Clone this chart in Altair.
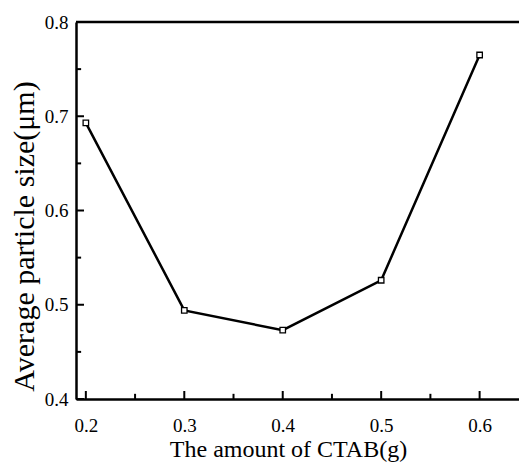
import altair as alt
import pandas as pd

ctab = [0.2, 0.3, 0.4, 0.5, 0.6]
size_um = [0.693, 0.494, 0.473, 0.526, 0.765]

x_major = [0.2, 0.3, 0.4, 0.5, 0.6]
x_minor = [0.25, 0.35, 0.45, 0.55]
y_major = [0.4, 0.5, 0.6, 0.7, 0.8]
y_minor = [0.45, 0.55, 0.65, 0.75]

FONT = "Liberation Serif"
XDOM = [0.19, 0.64]
YDOM = [0.4, 0.8]
# inward tick lengths in data units (major / minor)
XT_MAJ, XT_MIN = 0.0085, 0.0055
YT_MAJ, YT_MIN = 0.0081, 0.0052

df = pd.DataFrame({"x": ctab, "y": size_um})

xscale = alt.Scale(domain=XDOM, nice=False, zero=False)
yscale = alt.Scale(domain=YDOM, nice=False, zero=False)

xaxis = alt.Axis(
    values=x_major, format=".1f", ticks=False, tickSize=0, grid=False,
    domainColor="black", domainWidth=2.5,
    labelFont=FONT, labelFontSize=19, labelColor="black",
    labelBaseline="alphabetic", labelPadding=32,
    title="The amount of CTAB(g)", titleFont=FONT, titleFontSize=24,
    titleFontWeight="normal", titleColor="black",
    titleBaseline="alphabetic", titleY=57, titleX=212,
)
yaxis = alt.Axis(
    values=y_major, format=".1f", ticks=False, tickSize=0, grid=False,
    domainColor="black", domainWidth=2.5,
    labelFont=FONT, labelFontSize=19, labelColor="black",
    labelPadding=8,
    title="Average particle size(μm)", titleFont=FONT, titleFontSize=30,
    titleFontWeight="normal", titleColor="black",
    titleBaseline="alphabetic", titleAngle=270, titleX=-43, titleY=214,
)

line = alt.Chart(df).mark_line(color="black", strokeWidth=2.5).encode(
    x=alt.X("x:Q", scale=xscale, axis=xaxis),
    y=alt.Y("y:Q", scale=yscale, axis=yaxis),
)
pts = alt.Chart(df).mark_point(
    shape="square", filled=True, fill="white", stroke="black",
    strokeWidth=1.3, size=30, opacity=1,
).encode(x=alt.X("x:Q", scale=xscale), y=alt.Y("y:Q", scale=yscale))

top = alt.Chart(pd.DataFrame({"y": [YDOM[1]]})).mark_rule(
    color="black", strokeWidth=2.5
).encode(y=alt.Y("y:Q", scale=yscale))

xt_df = pd.DataFrame({
    "tx": x_major + x_minor,
    "ty0": [YDOM[0]] * (len(x_major) + len(x_minor)),
    "ty1": [YDOM[0] + XT_MAJ] * len(x_major) + [YDOM[0] + XT_MIN] * len(x_minor),
})
yt_df = pd.DataFrame({
    "ty": y_major + y_minor,
    "tx0": [XDOM[0]] * (len(y_major) + len(y_minor)),
    "tx1": [XDOM[0] + YT_MAJ] * len(y_major) + [XDOM[0] + YT_MIN] * len(y_minor),
})

xticks = alt.Chart(xt_df).mark_rule(color="black", strokeWidth=2).encode(
    x=alt.X("tx:Q", scale=xscale),
    y=alt.Y("ty0:Q", scale=yscale), y2=alt.Y2("ty1:Q"),
)
yticks = alt.Chart(yt_df).mark_rule(color="black", strokeWidth=2).encode(
    y=alt.Y("ty:Q", scale=yscale),
    x=alt.X("tx0:Q", scale=xscale), x2=alt.X2("tx1:Q"),
)

chart = alt.layer(
    line, top, xticks, yticks, pts,
).properties(
    width=443, height=377,
    autosize=alt.AutoSizeParams(type="none"),
    padding={"left": 76, "top": 22, "right": 0, "bottom": 63},
    background="white",
).configure_view(stroke=None)

chart.save("out.html", embed_options={"renderer": "svg", "actions": False})
